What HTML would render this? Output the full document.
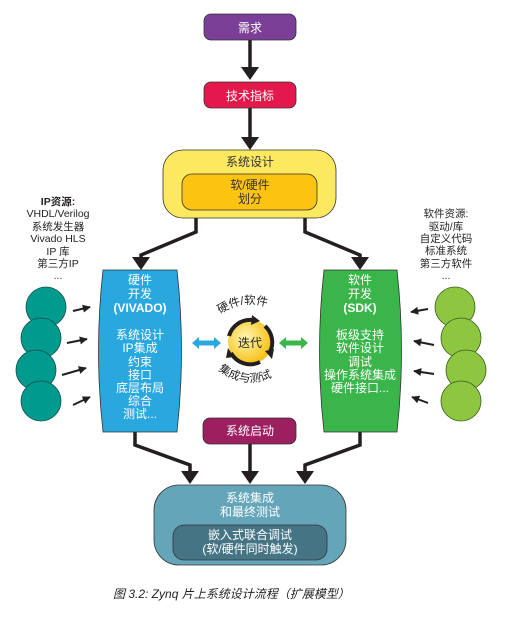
<!DOCTYPE html>
<html><head><meta charset="utf-8"><style>
html,body{margin:0;padding:0;background:#fff}
svg{display:block}
text{font-family:"Liberation Sans","Noto Sans CJK SC",sans-serif}
</style></head><body>
<svg width="505" height="619" viewBox="0 0 505 619" xmlns="http://www.w3.org/2000/svg">
<defs>
<marker id="ah" viewBox="0 0 10 10" refX="9" refY="5" markerWidth="4" markerHeight="4" orient="auto"><path d="M0,0L10,5L0,10z" fill="#231f20"/></marker>
<radialGradient id="yg" cx="0.4" cy="0.4" r="0.7"><stop offset="0" stop-color="#fff6b0"/><stop offset="1" stop-color="#f5b800"/></radialGradient>
</defs>
<g stroke="#231f20" stroke-width="3.5" fill="none">
<path d="M250 40V68"/><path d="M250 108V138"/>
<path d="M196 218V232L141 255V258"/><path d="M305 218V232L360 255V258"/>
<path d="M135 432V445L190 465V472"/><path d="M250 444V472"/><path d="M360 432V445L305 465V472"/>
</g>
<g fill="#231f20">
<path d="M241 67H259L250 80z"/><path d="M241 137H259L250 150z"/>
<path d="M132 257H150L141 270z"/><path d="M351 257H369L360 270z"/>
<path d="M181 471H199L190 484z"/><path d="M241 471H259L250 484z"/><path d="M296 471H314L305 484z"/>
</g>
<rect x="204" y="14" width="92" height="26" rx="7" fill="#7b3f98" stroke="#333" stroke-width="0.8"/>
<text x="250" y="32" font-size="12" fill="#fff" text-anchor="middle">需求</text>
<rect x="204" y="82" width="92" height="26" rx="7" fill="#e4184c" stroke="#333" stroke-width="0.8"/>
<text x="250" y="100" font-size="12" fill="#fff" text-anchor="middle">技术指标</text>
<rect x="163" y="150" width="173" height="68" rx="20" fill="#fde95f" stroke="#333" stroke-width="0.8"/>
<text x="250" y="166" font-size="12" fill="#333" text-anchor="middle">系统设计</text>
<rect x="182" y="174" width="135" height="36" rx="10" fill="#fdc311" stroke="#333" stroke-width="0.8"/>
<text x="250" y="189" font-size="12" fill="#333" text-anchor="middle">软/硬件</text>
<text x="250" y="203" font-size="12" fill="#333" text-anchor="middle">划分</text>
<path d="M103 270H177Q186 351 177 432H103Q94 351 103 270z" fill="#29a8e0" stroke="#333" stroke-width="0.8"/>
<g font-size="12" fill="#fff" text-anchor="middle">
<text x="140" y="284">硬件</text><text x="140" y="298">开发</text><text x="140" y="312" font-weight="bold">(VIVADO)</text>
<text x="140" y="339">系统设计</text><text x="140" y="352">IP集成</text><text x="140" y="366">约束</text><text x="140" y="379">接口</text><text x="140" y="392">底层布局</text><text x="140" y="405">综合</text><text x="140" y="418">测试...</text>
</g>
<path d="M324 270H397Q406 351 397 432H324Q315 351 324 270z" fill="#39b54a" stroke="#333" stroke-width="0.8"/>
<g font-size="12" fill="#fff" text-anchor="middle">
<text x="360" y="284">软件</text><text x="360" y="298">开发</text><text x="360" y="312" font-weight="bold">(SDK)</text>
<text x="360" y="339">板级支持</text><text x="360" y="352">软件设计</text><text x="360" y="366">调试</text><text x="360" y="379">操作系统集成</text><text x="360" y="392">硬件接口...</text>
</g>
<g font-size="10.5" fill="#231f20" text-anchor="middle">
<text x="58" y="205" font-weight="bold">IP资源:</text><text x="58" y="217">VHDL/Verilog</text><text x="58" y="230">系统发生器</text><text x="58" y="242">Vivado  HLS</text><text x="58" y="255">IP  库</text><text x="58" y="267">第三方IP</text><text x="58" y="279">...</text>
<text x="446" y="217">软件资源:</text><text x="446" y="230">驱动/库</text><text x="446" y="242">自定义代码</text><text x="446" y="254">标准系统</text><text x="446" y="267">第三方软件</text><text x="446" y="279">...</text>
</g>
<g fill="#009a8e" stroke="#1a4d48" stroke-width="0.8">
<circle cx="46" cy="307" r="20"/><circle cx="41" cy="338" r="20"/><circle cx="36" cy="370" r="20"/><circle cx="41" cy="401" r="20"/>
</g>
<g fill="#8dc63f" stroke="#3a5a1a" stroke-width="0.8">
<circle cx="455" cy="307" r="20"/><circle cx="461" cy="338" r="20"/><circle cx="466" cy="370" r="20"/><circle cx="461" cy="401" r="20"/>
</g>
<g stroke="#231f20" stroke-width="2" marker-end="url(#ah)">
<line x1="73" y1="311" x2="90" y2="307"/><line x1="67" y1="343" x2="87" y2="339"/><line x1="62" y1="375" x2="86" y2="368"/><line x1="73" y1="405" x2="90" y2="397"/>
<line x1="428" y1="309" x2="411" y2="312"/><line x1="434" y1="345" x2="414" y2="341"/><line x1="434" y1="374" x2="414" y2="371"/><line x1="428" y1="403" x2="412" y2="397"/>
</g>
<path d="M192 343l7-6v3.5h15v-3.5l7 6-7 6v-3.5h-15v3.5z" fill="#29a8e0"/>
<path d="M279 343l7-6v3.5h15v-3.5l7 6-7 6v-3.5h-15v3.5z" fill="#39b54a"/>
<circle cx="250" cy="342" r="22" fill="url(#yg)"/>
<g stroke="#231f20" stroke-width="4" fill="none">
<path d="M229 336A22 22 0 0 1 252 320"/><path d="M265 326A22 22 0 0 1 270 352"/><path d="M260 362A22 22 0 0 1 231 353"/>
</g>
<g fill="#231f20"><path d="M252 315L260 321L251 325z"/><path d="M265 351L272 359L274 349z"/><path d="M234 357L228 348L226 358z"/></g>
<text x="250" y="347" font-size="12" fill="#231f20" text-anchor="middle">迭代</text>
<path id="ta" d="M220 314Q250 294 282 314" fill="none"/>
<path id="tb" d="M218 370Q250 394 284 370" fill="none"/>
<text font-size="11.5" fill="#231f20"><textPath href="#ta">硬件/软件</textPath></text>
<text font-size="11.5" fill="#231f20"><textPath href="#tb">集成与测试</textPath></text>
<rect x="203" y="418" width="93" height="26" rx="7" fill="#9c1f5f" stroke="#333" stroke-width="0.8"/>
<text x="250" y="435" font-size="12" fill="#fff" text-anchor="middle">系统启动</text>
<rect x="154" y="485" width="192" height="80" rx="25" fill="#64a5ba" stroke="#333" stroke-width="0.8"/>
<text x="250" y="502" font-size="12" fill="#fff" text-anchor="middle">系统集成</text>
<text x="250" y="516" font-size="12" fill="#fff" text-anchor="middle">和最终测试</text>
<rect x="173" y="525" width="154" height="35" rx="11" fill="#457585" stroke="#333" stroke-width="0.8"/>
<text x="250" y="539" font-size="12" fill="#fff" text-anchor="middle">嵌入式联合调试</text>
<text x="250" y="553" font-size="12" fill="#fff" text-anchor="middle">(软/硬件同时触发)</text>
<text x="113" y="598" font-size="12" fill="#231f20" font-style="italic" font-family="Liberation Serif,Noto Serif CJK SC,serif">图  3.2:   Zynq 片上系统设计流程（扩展模型）</text>
</svg>
</body></html>
